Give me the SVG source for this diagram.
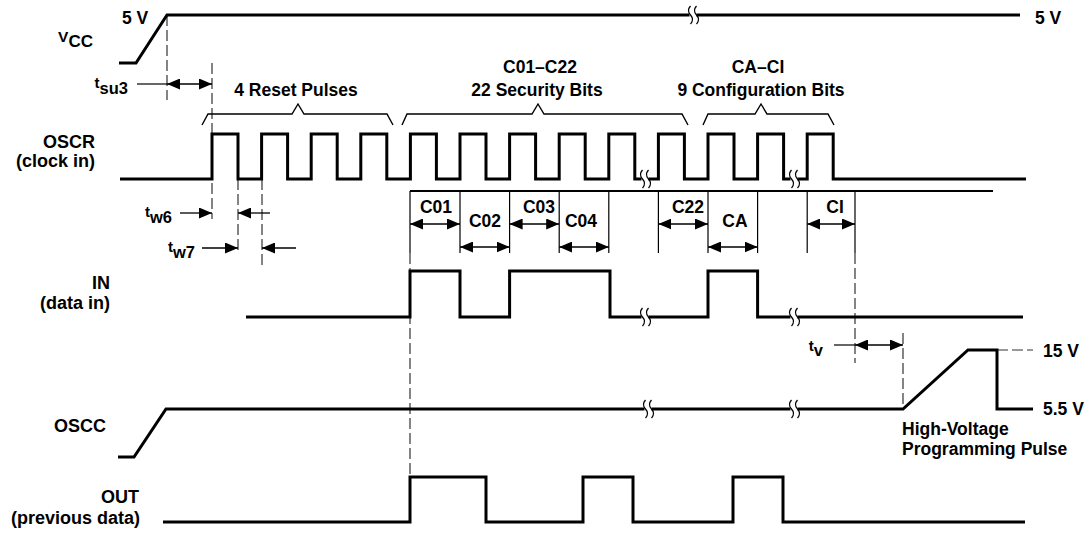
<svg xmlns="http://www.w3.org/2000/svg" width="1087" height="533" viewBox="0 0 1087 533">
<style>
text{font-family:"Liberation Sans",Arial,sans-serif;font-weight:bold;font-size:17.5px;fill:#000}
.lbl{font-size:18px}
.sig{fill:none;stroke:#000;stroke-width:3;stroke-linejoin:miter;stroke-linecap:butt}
.thin{fill:none;stroke:#000;stroke-width:1.2}
.dash{fill:none;stroke:#333;stroke-width:1.2;stroke-dasharray:11 4}
.arr{fill:none;stroke:#000;stroke-width:1.3;marker-start:url(#ah);marker-end:url(#ah)}
.arr1{fill:none;stroke:#000;stroke-width:1.3;marker-end:url(#ah)}
.brace{fill:none;stroke:#000;stroke-width:1.4;stroke-linejoin:miter}
.bm{fill:none;stroke:#000;stroke-width:1.3}
</style>
<defs>
<marker id="ah" markerUnits="userSpaceOnUse" markerWidth="13" markerHeight="11" refX="13" refY="5.5" orient="auto-start-reverse">
<path d="M0,0 L13,5.5 L0,11 z" fill="#000"/>
</marker>
<g id="brk">
<rect x="-3.5" y="-3" width="7" height="6" fill="#fff"/>
<path class="bm" d="M-2.5,-9 Q-6.5,-4.5 -2.5,0 T-2.5,9"/>
<path class="bm" d="M3.5,-9 Q-0.5,-4.5 3.5,0 T3.5,9"/>
</g>
</defs>

<g id="guides">
<line class="dash" x1="167" y1="15" x2="167" y2="100"/>
<line class="dash" x1="212" y1="63" x2="212" y2="219"/>
<line class="dash" x1="238" y1="179" x2="238" y2="253"/>
<line class="dash" x1="262" y1="179" x2="262" y2="265"/>
<line class="dash" x1="410" y1="253" x2="410" y2="477"/>
<line class="dash" x1="855" y1="253" x2="855" y2="363"/>
<line class="dash" x1="903" y1="333" x2="903" y2="409"/>
<line class="dash" x1="997" y1="350" x2="1033" y2="350"/>
</g>

<g id="vcc">
<path class="sig" d="M119,63 H136 L167,15 H1020"/>
<use href="#brk" x="693" y="15"/>
<text class="lbl" x="93" y="42" text-anchor="end"><tspan font-size="15.5">V</tspan><tspan font-size="17" dy="5">CC</tspan></text>
<text x="122" y="24">5 V</text>
<text x="1035" y="24">5 V</text>
</g>

<g id="tsu3">
<line class="thin" x1="137" y1="84" x2="167" y2="84"/>
<line class="arr" x1="167" y1="84" x2="212" y2="84"/>
<text x="128" y="88" text-anchor="end"><tspan font-size="15">t</tspan><tspan font-size="16.5" dy="6">su3</tspan></text>
</g>

<g id="braces">
<path class="brace" d="M202,125 L208,114 H292 L298,104 L304,114 H387 L393,125"/>
<path class="brace" d="M402,125 L407,114 H532 L538,104 L544,114 H682 L688,125"/>
<path class="brace" d="M703,125 L708,114 H755 L761,104 L767,114 H828 L834,125"/>
<text x="296" y="96" text-anchor="middle">4 Reset Pulses</text>
<text x="540" y="73" text-anchor="middle">C01–C22</text>
<text x="537" y="96" text-anchor="middle">22 Security Bits</text>
<text x="758" y="73" text-anchor="middle">CA–CI</text>
<text x="761" y="96" text-anchor="middle">9 Configuration Bits</text>
</g>

<g id="oscr">
<path class="sig" d="M120,179 H212 V134 H238 V179 H261.6 V134 H287.6 V179 H311.2 V134 H337.2 V179 H360.8 V134 H386.8 V179 H410.4 V134 H436.4 V179 H460 V134 H486 V179 H509.6 V134 H535.6 V179 H559.2 V134 H585.2 V179 H608.8 V134 H634.8 V179 H658.4 V134 H684.4 V179 H708 V134 H734 V179 H757.6 V134 H783.6 V179 H807.2 V134 H833.2 V179 H1026"/>
<use href="#brk" x="645" y="179"/>
<use href="#brk" x="794" y="179"/>
<text class="lbl" x="95" y="148" text-anchor="end">OSCR</text>
<text class="lbl" x="95" y="167" text-anchor="end">(clock in)</text>
</g>

<g id="tw">
<line class="arr1" x1="180" y1="213" x2="212" y2="213"/>
<line class="arr1" x1="270" y1="213" x2="238" y2="213"/>
<line class="arr1" x1="202" y1="248" x2="238" y2="248"/>
<line class="arr1" x1="296" y1="248" x2="262" y2="248"/>
<text x="172" y="217" text-anchor="end"><tspan font-size="15">t</tspan><tspan font-size="16.5" dy="6">w6</tspan></text>
<text x="195" y="252" text-anchor="end"><tspan font-size="15">t</tspan><tspan font-size="16.5" dy="6">w7</tspan></text>
</g>

<g id="bits">
<line x1="410" y1="191" x2="993" y2="191" stroke="#000" stroke-width="2"/>
<path class="thin" d="M410,191 V253 M460,191 V253 M509.6,191 V253 M559.2,191 V253 M608.8,191 V253 M658.4,191 V253 M708,191 V253 M757.6,191 V253 M807.2,191 V253 M855,191 V253"/>
<line class="arr" x1="410" y1="224" x2="460" y2="224"/>
<line class="arr" x1="460" y1="247" x2="509.6" y2="247"/>
<line class="arr" x1="509.6" y1="224" x2="559.2" y2="224"/>
<line class="arr" x1="559.2" y1="247" x2="608.8" y2="247"/>
<line class="arr" x1="658.4" y1="224" x2="708" y2="224"/>
<line class="arr" x1="708" y1="247" x2="757.6" y2="247"/>
<line class="arr" x1="807.2" y1="224" x2="855" y2="224"/>
<text x="436" y="213" text-anchor="middle">C01</text>
<text x="485" y="227" text-anchor="middle">C02</text>
<text x="539" y="213" text-anchor="middle">C03</text>
<text x="581" y="227" text-anchor="middle">C04</text>
<text x="688" y="213" text-anchor="middle">C22</text>
<text x="735" y="227" text-anchor="middle">CA</text>
<text x="835" y="213" text-anchor="middle">CI</text>
</g>

<g id="in">
<path class="sig" d="M246,317 H410 V271 H460 V317 H509.6 V271 H610 V317 H708 V271 H757.6 V317 H1023"/>
<use href="#brk" x="645" y="317"/>
<use href="#brk" x="794" y="317"/>
<text class="lbl" x="110" y="289" text-anchor="end">IN</text>
<text class="lbl" x="110" y="309" text-anchor="end">(data in)</text>
</g>

<g id="tv">
<line class="thin" x1="834" y1="345" x2="855" y2="345"/>
<line class="arr" x1="855" y1="345" x2="903" y2="345"/>
<text x="823" y="351" text-anchor="end"><tspan font-size="15">t</tspan><tspan font-size="16.5" dy="5">v</tspan></text>
</g>

<g id="oscc">
<path class="sig" d="M118,457 H134 L166,409 H903 L968,350 H997 V409 H1033"/>
<use href="#brk" x="648" y="409"/>
<use href="#brk" x="794" y="409"/>
<text class="lbl" x="106" y="432" text-anchor="end">OSCC</text>
<text x="1043" y="357">15 V</text>
<text x="1043" y="415">5.5 V</text>
<text x="902" y="435">High-Voltage</text>
<text x="902" y="455">Programming Pulse</text>
</g>

<g id="out">
<path class="sig" d="M163,522 H410 V477 H486 V522 H583 V477 H633 V522 H733 V477 H783 V522 H1025"/>
<text class="lbl" x="139" y="503" text-anchor="end">OUT</text>
<text class="lbl" x="140" y="524" text-anchor="end">(previous data)</text>
</g>
</svg>
